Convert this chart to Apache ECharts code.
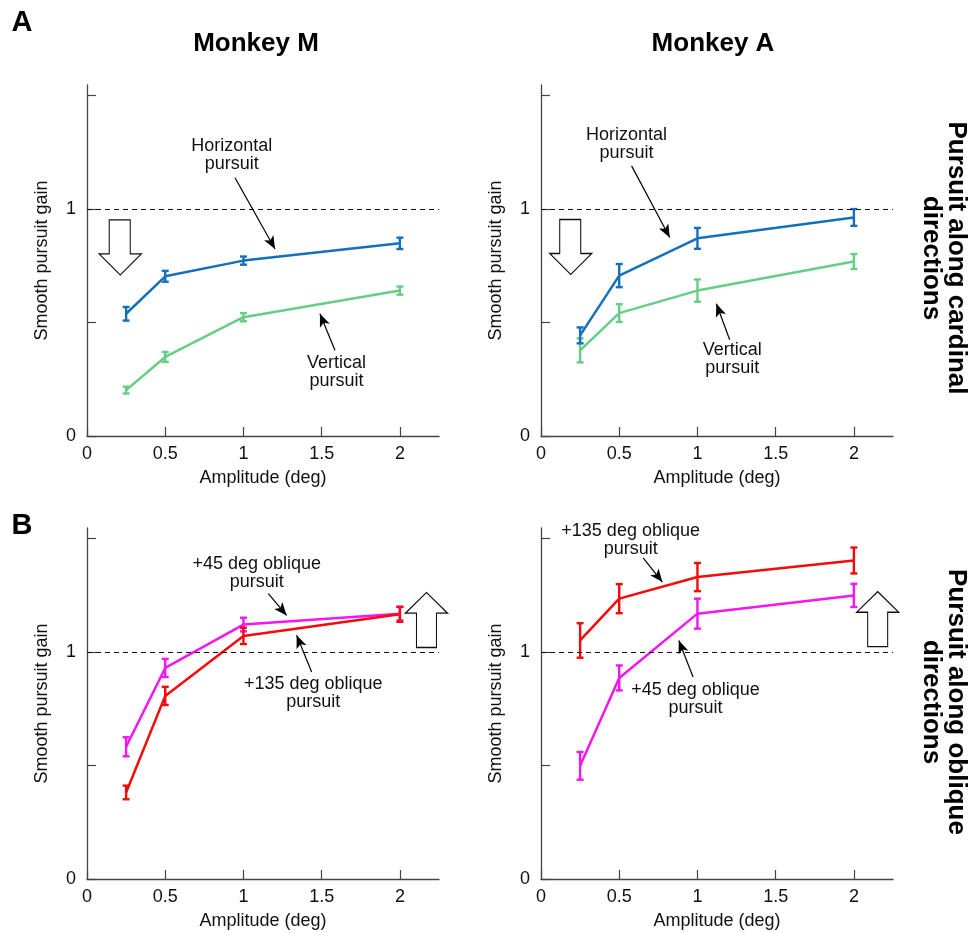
<!DOCTYPE html>
<html lang="en">
<head>
  <meta charset="UTF-8">
  <title>Smooth pursuit gain</title>
  <script src="https://cdn.jsdelivr.net/npm/echarts@6/dist/echarts.min.js"></script>
  <style>
    body { margin: 0; background: #fff; }
    #chart { width: 969px; height: 933px; }
  </style>
</head>
<body>
<div id="chart"></div>
<script>
  // amplitudes (deg) used in every panel
  let amplitudes = [0.25, 0.5, 1, 2];

  // Monkey M, cardinal
  let mHoriz = [0.538, 0.703, 0.772, 0.848];
  let mHorizErr = [0.03, 0.024, 0.018, 0.025];
  let mVert = [0.202, 0.348, 0.523, 0.64];
  let mVertErr = [0.015, 0.022, 0.018, 0.018];
  // Monkey A, cardinal
  let aHoriz = [0.443, 0.706, 0.87, 0.962];
  let aHorizErr = [0.035, 0.051, 0.046, 0.037];
  let aVert = [0.377, 0.541, 0.64, 0.768];
  let aVertErr = [0.053, 0.039, 0.049, 0.033];
  // Monkey M, oblique
  let m45 = [0.582, 0.929, 1.12, 1.168];
  let m45Err = [0.042, 0.04, 0.03, 0.03];
  let m135 = [0.381, 0.806, 1.07, 1.165];
  let m135Err = [0.03, 0.04, 0.036, 0.033];
  // Monkey A, oblique
  let a45 = [0.498, 0.885, 1.168, 1.248];
  let a45Err = [0.061, 0.055, 0.066, 0.051];
  let a135 = [1.05, 1.234, 1.329, 1.402];
  let a135Err = [0.076, 0.064, 0.062, 0.057];

  let xTicks = [0, 0.5, 1, 1.5, 2];
  let yTicks = [0, 0.5, 1, 1.5];
  let yTickLabels = [0, 1];

  const FONT = '"Liberation Sans", Arial, Helvetica, sans-serif';
  const BLUE = '#1470bb', GREEN = '#68cd84', RED = '#f50a0a', MAGENTA = '#f515f0';

  const grids = [
    {left: 87, top: 85, width: 352, height: 351},
    {left: 541, top: 85, width: 352, height: 351},
    {left: 87, top: 528, width: 352, height: 351},
    {left: 541, top: 528, width: 352, height: 351}
  ];

  function pairs(ys) {
    return amplitudes.map((x, i) => [x, ys[i]]);
  }
  function bars(ys, errs) {
    return amplitudes.map((x, i) => [x, ys[i] - errs[i], ys[i] + errs[i]]);
  }

  function errRender(params, api) {
    const x = api.value(0);
    const lo = api.coord([x, api.value(1)]);
    const hi = api.coord([x, api.value(2)]);
    const w = 3.5;
    const style = {stroke: api.visual('color'), lineWidth: 2.4};
    return {
      type: 'group',
      children: [
        {type: 'line', shape: {x1: lo[0], y1: lo[1], x2: hi[0], y2: hi[1]}, style: style},
        {type: 'line', shape: {x1: lo[0] - w, y1: lo[1], x2: lo[0] + w, y2: lo[1]}, style: style},
        {type: 'line', shape: {x1: hi[0] - w, y1: hi[1], x2: hi[0] + w, y2: hi[1]}, style: style}
      ]
    };
  }

  const downArrow = 'path://M10,0 L31,0 L31,34 L42,34 L21,55 L0,34 L10,34 Z';
  const upArrow = 'path://M21,0 L42,21 L31,21 L31,56 L11,56 L11,21 L0,21 Z';

  function arrow(from, to) {
    return [{coord: from, symbol: 'none'}, {coord: to, symbol: 'arrow'}];
  }

  // one line + its error bars; the first series of each panel carries the markers
  function curve(g, ys, errs, color, marks) {
    const line = {
      type: 'line', xAxisIndex: g, yAxisIndex: g,
      data: pairs(ys), symbol: 'none', animation: false,
      lineStyle: {color: color, width: 2.5}, itemStyle: {color: color},
      z: 3
    };
    if (marks) {
      line.markLine = {
        silent: true, animation: false, symbol: ['none', 'none'], symbolSize: [8, 13],
        label: {show: false},
        lineStyle: {color: '#000', width: 1.2, type: 'solid'},
        data: [{yAxis: 1, lineStyle: {type: [5, 4], width: 1.2, color: '#111'}}].concat(marks.arrows)
      };
      line.markPoint = {
        silent: true, animation: false, symbol: marks.big.path, symbolSize: [42, 55],
        itemStyle: {color: '#fff', borderColor: '#111', borderWidth: 1.2},
        label: {show: false},
        data: [{coord: marks.big.at}]
      };
    }
    const err = {
      type: 'custom', xAxisIndex: g, yAxisIndex: g,
      data: bars(ys, errs), renderItem: errRender, animation: false,
      itemStyle: {color: color}, z: 4
    };
    return [line, err];
  }

  let series = [];
  series = series.concat(curve(0, mVert, mVertErr, GREEN, {
    arrows: [arrow([0.946, 1.137], [1.202, 0.823]), arrow([1.585, 0.377], [1.489, 0.538])],
    big: {path: downArrow, at: [0.2125, 0.83]}
  }));
  series = series.concat(curve(0, mHoriz, mHorizErr, BLUE));
  series = series.concat(curve(1, aVert, aVertErr, GREEN, {
    arrows: [arrow([0.579, 1.189], [0.823, 0.874]), arrow([1.206, 0.424], [1.121, 0.582])],
    big: {path: downArrow, at: [0.19, 0.832]}
  }));
  series = series.concat(curve(1, aHoriz, aHorizErr, BLUE));
  series = series.concat(curve(2, m45, m45Err, MAGENTA, {
    arrows: [arrow([1.159, 1.256], [1.276, 1.16]), arrow([1.436, 0.911], [1.34, 1.073])],
    big: {path: upArrow, at: [2.17, 1.14]}
  }));
  series = series.concat(curve(2, m135, m135Err, RED));
  series = series.concat(curve(3, a45, a45Err, MAGENTA, {
    arrows: [arrow([0.653, 1.414], [0.776, 1.307]), arrow([0.972, 0.889], [0.881, 1.05])],
    big: {path: upArrow, at: [2.152, 1.144]}
  }));
  series = series.concat(curve(3, a135, a135Err, RED));

  const axisLine = {lineStyle: {color: '#444', width: 1.3}};
  const tickStyle = {inside: true, length: 9, lineStyle: {color: '#444', width: 1.2}};
  const labelStyle = {color: '#111', fontSize: 18, fontFamily: FONT};

  const xAxis = grids.map((_, i) => ({
    type: 'value', gridIndex: i, min: 0, max: 2.25,
    name: 'Amplitude (deg)', nameLocation: 'middle', nameGap: 33,
    nameTextStyle: labelStyle,
    axisLine: axisLine,
    axisTick: Object.assign({customValues: xTicks}, tickStyle),
    axisLabel: Object.assign({customValues: xTicks, margin: 9}, labelStyle),
    splitLine: {show: false}
  }));
  const yAxis = grids.map((_, i) => ({
    type: 'value', gridIndex: i, min: 0, max: 1.545,
    name: 'Smooth pursuit gain', nameLocation: 'middle', nameGap: 36,
    nameTextStyle: labelStyle,
    axisLine: axisLine,
    axisTick: Object.assign({customValues: yTicks}, tickStyle),
    axisLabel: Object.assign({customValues: yTickLabels, margin: 11}, labelStyle),
    splitLine: {show: false}
  }));

  const chart = echarts.init(document.getElementById('chart'));
  chart.setOption({
    animation: false,
    grid: grids.map(g => Object.assign({outerBoundsMode: 'none'}, g)),
    xAxis: xAxis,
    yAxis: yAxis,
    series: series
  });

  // text annotations placed in data coordinates of each panel
  const notes = [
    {g: 0, at: [0.925, 1.237], text: 'Horizontal\npursuit'},
    {g: 0, at: [1.595, 0.282], text: 'Vertical\npursuit'},
    {g: 1, at: [0.547, 1.287], text: 'Horizontal\npursuit'},
    {g: 1, at: [1.222, 0.338], text: 'Vertical\npursuit'},
    {g: 2, at: [1.085, 1.347], text: '+45 deg oblique\npursuit'},
    {g: 2, at: [1.446, 0.819], text: '+135 deg oblique\npursuit'},
    {g: 3, at: [0.573, 1.494], text: '+135 deg oblique\npursuit'},
    {g: 3, at: [0.988, 0.79], text: '+45 deg oblique\npursuit'}
  ];
  const graphic = notes.map(n => {
    const p = chart.convertToPixel({gridIndex: n.g}, n.at);
    return {
      type: 'text', x: p[0], y: p[1], silent: true,
      style: {text: n.text, align: 'center', verticalAlign: 'middle', fontSize: 18,
        lineHeight: 18, fontFamily: FONT, fill: '#111'}
    };
  });
  const bold = {fontWeight: 'bold', fontFamily: FONT, fill: '#000', align: 'center', verticalAlign: 'middle'};
  graphic.push(
    {type: 'text', x: 22, y: 23, style: Object.assign({text: 'A', fontSize: 29}, bold)},
    {type: 'text', x: 22, y: 526, style: Object.assign({text: 'B', fontSize: 29}, bold)},
    {type: 'text', x: 256, y: 44, style: Object.assign({text: 'Monkey M', fontSize: 26}, bold)},
    {type: 'text', x: 713, y: 44, style: Object.assign({text: 'Monkey A', fontSize: 26}, bold)},
    {type: 'text', x: 944, y: 258, rotation: -Math.PI / 2,
      style: Object.assign({text: 'Pursuit along cardinal\ndirections', fontSize: 26, lineHeight: 25}, bold)},
    {type: 'text', x: 944, y: 702, rotation: -Math.PI / 2,
      style: Object.assign({text: 'Pursuit along oblique\ndirections', fontSize: 26, lineHeight: 25}, bold)}
  );
  chart.setOption({graphic: graphic});
</script>
</body>
</html>
